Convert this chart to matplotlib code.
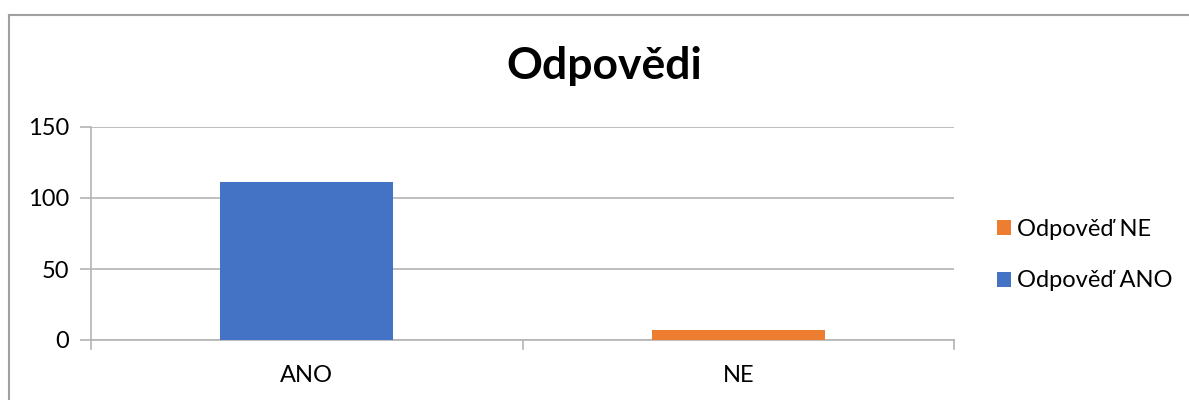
import matplotlib.pyplot as plt
from matplotlib.lines import Line2D

# data
categories = ["ANO", "NE"]
ano_values = [111, 0]
ne_values = [0, 7]
yticks = [0, 50, 100, 150]

plt.rcParams['font.family'] = ['Lato', 'DejaVu Sans']

W, H = 1189, 400
fig = plt.figure(figsize=(W / 100, H / 100), dpi=100)
ax = fig.add_axes([91 / W, 1 - 340 / H, (954 - 91) / W, (340 - 127) / H])

grid_col = "#B4B4B4"
x = list(range(len(categories)))
ax.bar(x, ano_values, width=0.4, color="#4472C4", label="Odpověď ANO", zorder=3)
ax.bar(x, ne_values, width=0.4, bottom=ano_values, color="#ED7D31",
       label="Odpověď NE", zorder=3)

ax.set_xlim(-0.5, 1.5)
ax.set_ylim(0, 150)
ax.set_yticks(yticks)
ax.set_xticks(x)
ax.set_xticklabels(categories)
ax.yaxis.grid(True, color=grid_col, linewidth=1.2, zorder=0)
ax.tick_params(axis="y", length=8, color=grid_col, width=1.2, labelsize=17,
               pad=8)
ax.tick_params(axis="x", length=0, labelsize=17, pad=18)
for s in ["top", "right"]:
    ax.spines[s].set_visible(False)
for s in ["left", "bottom"]:
    ax.spines[s].set_color(grid_col)
    ax.spines[s].set_linewidth(1.2)

# x-axis separator ticks (between categories)
for xv in [-0.5, 0.5, 1.5]:
    ax.plot([xv, xv], [0, -6], color=grid_col, linewidth=1.2,
            clip_on=False, zorder=2)

fig.text(604 / W, 1 - 66 / H, "Odpovědi", ha="center", va="center",
         fontsize=32, fontweight="bold")

handles, labels = ax.get_legend_handles_labels()
leg = fig.legend(handles[::-1], labels[::-1], loc="center left",
                 bbox_to_anchor=(976 / W, 1 - 255 / H), frameon=False,
                 fontsize=17, handlelength=0.6, handleheight=0.6,
                 handletextpad=0.25, labelspacing=1.3)

# outer chart border (left and top visible)
fig.add_artist(Line2D([8.5 / W, 8.5 / W], [0, 1 - 15 / H],
                      transform=fig.transFigure, color="#A0A0A0", linewidth=1.5))
fig.add_artist(Line2D([8.5 / W, 1], [1 - 15 / H, 1 - 15 / H],
                      transform=fig.transFigure, color="#A0A0A0", linewidth=1.5))

fig.savefig("out.png", dpi=100)
